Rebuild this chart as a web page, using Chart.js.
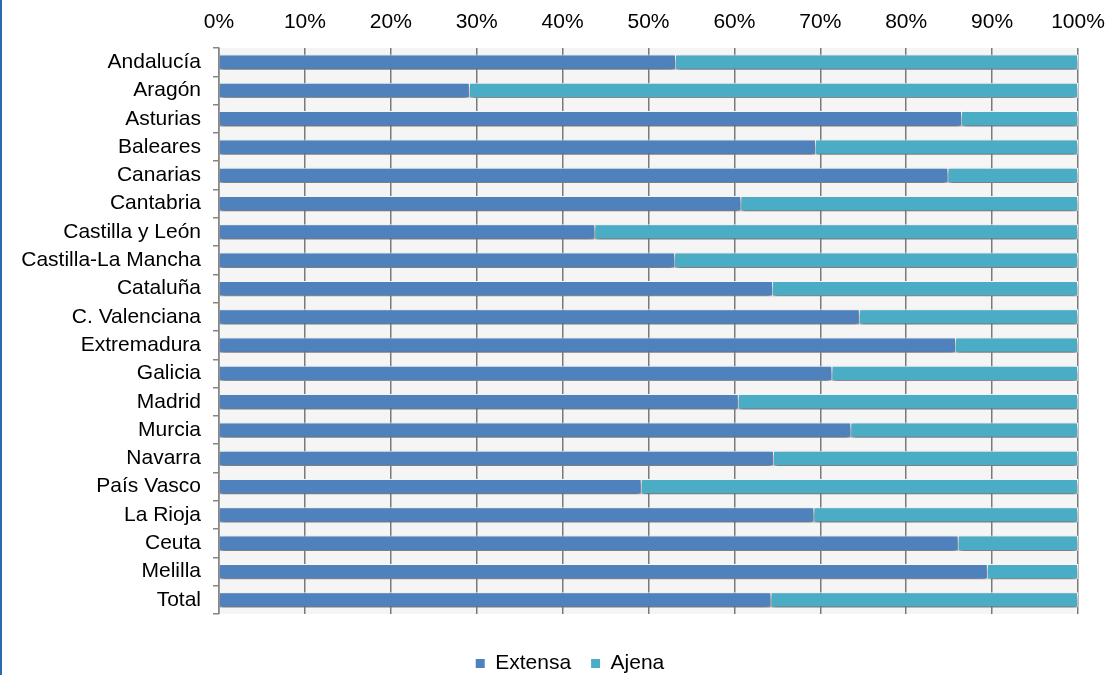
<!DOCTYPE html>
<html>
<head>
<meta charset="utf-8">
<script src="https://cdn.jsdelivr.net/npm/chart.js@4/dist/chart.umd.min.js"></script>
<style>
html,body{margin:0;padding:0;background:#fff;overflow:hidden;}
#wrap{position:relative;width:1111px;height:675px;overflow:hidden;}
#edge{position:absolute;left:0;top:0;width:2px;height:675px;background:#2B6CB0;}
canvas{display:block;}
</style>
</head>
<body>
<div id="wrap"><canvas id="c" width="1111" height="684"></canvas><div id="edge"></div></div>
<script>
const categories = ["Andalucía","Aragón","Asturias","Baleares","Canarias","Cantabria","Castilla y León","Castilla-La Mancha","Cataluña","C. Valenciana","Extremadura","Galicia","Madrid","Murcia","Navarra","País Vasco","La Rioja","Ceuta","Melilla","Total"];
const extensa = [53.2,29.2,86.5,69.5,84.9,60.8,43.8,53.1,64.5,74.6,85.8,71.4,60.5,73.6,64.6,49.2,69.3,86.1,89.5,64.3];
const ajena   = [46.8,70.8,13.5,30.5,15.1,39.2,56.2,46.9,35.5,25.4,14.2,28.6,39.5,26.4,35.4,50.8,30.7,13.9,10.5,35.7];
const xTicks = [0,10,20,30,40,50,60,70,80,90,100];

const FONT = "'Liberation Sans', Arial, sans-serif";
const PAD_L = 8, PAD_R = 33;
const LEGEND_CENTER_X = 570;

const bgPlugin = {
  id: 'bg',
  afterLayout(chart){
    const lg = chart.legend;
    if (lg) {
      const dx = LEGEND_CENTER_X - (lg.left + lg.right) / 2;
      lg.left += dx; lg.right += dx;
    }
  },
  beforeDraw(chart){
    const {ctx, chartArea:a} = chart;
    ctx.save();
    ctx.fillStyle = '#f5f5f5';
    ctx.fillRect(a.left, a.top, a.right - a.left, a.bottom - a.top);
    ctx.restore();
  },
  beforeDatasetsDraw(chart){
    const ctx = chart.ctx;
    ctx.save();
    ctx.shadowColor = 'rgba(0,0,0,0.6)';
    ctx.shadowBlur = 5;
    ctx.shadowOffsetY = 3;
  },
  afterDatasetsDraw(chart){
    chart.ctx.restore();
  }
};

new Chart(document.getElementById('c'), {
  type: 'bar',
  data: {
    labels: categories,
    datasets: [
      {label:'Extensa', data: extensa, backgroundColor:'#4F81BD', borderColor:'#ffffff', borderWidth:1, categoryPercentage:1, barPercentage:0.54},
      {label:'Ajena', data: ajena, backgroundColor:'#4BACC6', borderColor:'#ffffff', borderWidth:1, categoryPercentage:1, barPercentage:0.54}
    ]
  },
  options: {
    indexAxis: 'y',
    responsive: false,
    animation: false,
    layout: {padding: {left: PAD_L, right: PAD_R, top: 0, bottom: 0}},
    scales: {
      x: {
        position: 'top',
        stacked: true,
        min: 0, max: 100,
        afterBuildTicks(s){ s.ticks = xTicks.map(v => ({value: v})); },
        afterFit(s){ s.height = 48; s.paddingLeft = 0; s.paddingRight = 0; },
        ticks: {
          callback: v => v + '%',
          color: '#000',
          font: {family: FONT, size: 21},
          padding: 13,
          maxRotation: 0
        },
        grid: {color: '#7a7a7a', lineWidth: 1.5, drawTicks: false, z: -1},
        border: {display: false}
      },
      y: {
        stacked: true,
        afterFit(s){ s.width = 219 - PAD_L; },
        ticks: {color: '#000', font: {family: FONT, size: 21}, padding: 12, autoSkip: false},
        grid: {offset: true, drawOnChartArea: false, drawTicks: true, tickLength: 6, color: '#868686', lineWidth: 1.5},
        border: {display: true, color: '#868686', width: 1.5}
      }
    },
    plugins: {
      tooltip: {enabled: false},
      legend: {
        position: 'bottom',
        title: {display: true, text: ' ', padding: {top: 7, bottom: 0}, font: {size: 10}},
        labels: {
          boxWidth: 9, boxHeight: 9, padding: 20,
          color: '#000',
          font: {family: FONT, size: 21},
          generateLabels(chart){
            return chart.data.datasets.map((d,i) => ({
              text: d.label, fillStyle: d.backgroundColor, strokeStyle: d.backgroundColor,
              lineWidth: 0, datasetIndex: i, hidden: false, fontColor: '#000'
            }));
          }
        }
      }
    }
  },
  plugins: [bgPlugin]
});
</script>
</body>
</html>
